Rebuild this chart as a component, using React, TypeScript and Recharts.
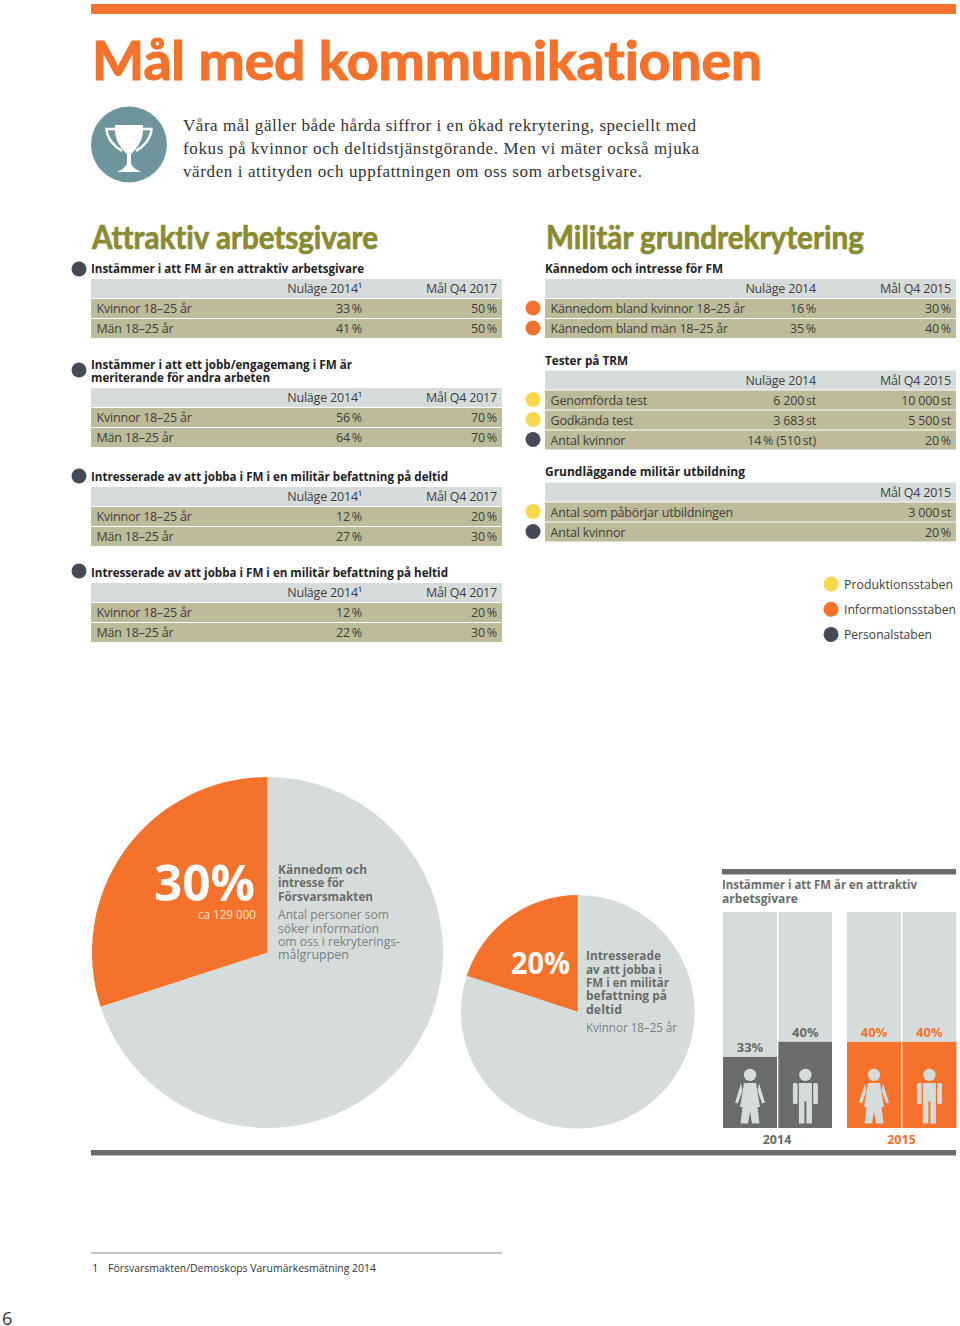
import { BarChart, Bar, XAxis, YAxis, LabelList, PieChart, Pie, Cell } from 'recharts';

const ORANGE = '#f4722b';
const YELLOW = '#f9d84c';
const NAVY = '#444a58';
const PALE = '#d6dcdc';
const KHAKI = '#bdbb99';
const OLIVE = '#8a8a33';
const SLATE = '#696c68';
const INK = '#3f403a';
const SANS = '"Open Sans", sans-serif';
const DISPLAY = 'Lato, sans-serif';

const introLines = [
  'Våra mål gäller både hårda siffror i en ökad rekrytering, speciellt med',
  'fokus på kvinnor och deltidstjänstgörande. Men vi mäter också mjuka',
  'värden i attityden och uppfattningen om oss som arbetsgivare.',
];

// left column tables
const attraktivRows = [
  ['Kvinnor 18–25 år', '33\u2009%', '50\u2009%'],
  ['Män 18–25 år', '41\u2009%', '50\u2009%'],
];
const meriterandeRows = [
  ['Kvinnor 18–25 år', '56\u2009%', '70\u2009%'],
  ['Män 18–25 år', '64\u2009%', '70\u2009%'],
];
const deltidRows = [
  ['Kvinnor 18–25 år', '12\u2009%', '20\u2009%'],
  ['Män 18–25 år', '27\u2009%', '30\u2009%'],
];
const heltidRows = [
  ['Kvinnor 18–25 år', '12\u2009%', '20\u2009%'],
  ['Män 18–25 år', '22\u2009%', '30\u2009%'],
];

// right column tables
const kannedomRows = [
  ['Kännedom bland kvinnor 18–25 år', '16\u2009%', '30\u2009%'],
  ['Kännedom bland män 18–25 år', '35\u2009%', '40\u2009%'],
];
const testerRows = [
  ['Genomförda test', '6\u00a0200\u2009st', '10\u00a0000\u2009st'],
  ['Godkända test', '3\u00a0683\u2009st', '5\u00a0500\u2009st'],
  ['Antal kvinnor', '14\u2009% (510\u2009st)', '20\u2009%'],
];
const utbildningRows = [
  ['Antal som påbörjar utbildningen', '', '3\u00a0000\u2009st'],
  ['Antal kvinnor', '', '20\u2009%'],
];

const legendNames = ['Produktionsstaben', 'Informationsstaben', 'Personalstaben'];
const legendWidths = [109, 112, 88];
const legendColors = [YELLOW, ORANGE, NAVY];

const kannedomPie = [
  { name: 'Övriga', value: 70 },
  { name: 'Kännedom och intresse för Försvarsmakten', value: 30 },
];
const deltidPie = [
  { name: 'Övriga', value: 80 },
  { name: 'Intresserade av att jobba i FM', value: 20 },
];

const bars2014 = [
  { group: 'Kvinnor', value: 33 },
  { group: 'Män', value: 40 },
];
const bars2015 = [
  { group: 'Kvinnor', value: 40 },
  { group: 'Män', value: 40 },
];

const T = ({ x, y, w, size = 13, weight = 400, fill = INK, anchor = 'start', font = SANS, adjust = 'spacingAndGlyphs', tracking, children }: any) => (
  <text
    x={x}
    y={y}
    fontFamily={font}
    fontSize={size}
    fontWeight={weight}
    fill={fill}
    textAnchor={anchor}
    textLength={w}
    lengthAdjust={w ? adjust : undefined}
    letterSpacing={tracking}
  >
    {children}
  </text>
);

// Lato bold thickened a little, the original headings are heavier
const Heading = ({ x, y, w, size, fill, children }: any) => (
  <text
    x={x}
    y={y}
    fontFamily={DISPLAY}
    fontSize={size}
    fontWeight={700}
    fill={fill}
    stroke={fill}
    strokeWidth={size / 45}
    textLength={w}
    lengthAdjust="spacingAndGlyphs"
    style={{ fontVariantLigatures: 'none' }}
  >
    {children}
  </text>
);

const Dot = ({ x, y, color }: any) => <circle cx={x} cy={y} r={7.5} fill={color} />;

const Table = ({ x, y, head1, head2, rows, dots, col1 }: any) => (
  <g>
    <rect x={x} y={y} width={411} height={19} fill={PALE} />
    <T x={x + col1} y={y + 14} anchor="end" size={12.5} tracking={-0.2}>{head1}</T>
    <T x={x + 406} y={y + 14} anchor="end" size={12.5} tracking={-0.2}>{head2}</T>
    {rows.map((row: string[], i: number) => {
      const top = y + 20 + i * 20;
      return (
        <g key={row[0]}>
          <rect x={x} y={top} width={411} height={19} fill={KHAKI} />
          <T x={x + 5.5} y={top + 14} size={12.5} tracking={-0.2}>{row[0]}</T>
          <T x={x + col1} y={top + 14} anchor="end" size={12.5} tracking={-0.2}>{row[1]}</T>
          <T x={x + 406} y={top + 14} anchor="end" size={12.5} tracking={-0.2}>{row[2]}</T>
          {dots && <Dot x={x - 12} y={top + 9} color={dots[i]} />}
        </g>
      );
    })}
  </g>
);

const Woman = ({ cx, b }: any) => (
  <g fill={PALE}>
    <circle cx={cx} cy={b - 53.5} r={6.2} />
    <path d={`M${cx - 6} ${b - 45.5} H${cx + 6} L${cx + 8} ${b - 33} L${cx + 10} ${b - 21.5} H${cx + 7.5} L${cx + 9.5} ${b - 5} H${cx + 2} L${cx} ${b - 17} L${cx - 2} ${b - 5} H${cx - 9.5} L${cx - 7.5} ${b - 21.5} H${cx - 10} L${cx - 8} ${b - 33} Z`} />
    <path d={`M${cx - 9} ${b - 45} L${cx - 15} ${b - 26} L${cx - 12} ${b - 25} L${cx - 7.5} ${b - 38} Z`} />
    <path d={`M${cx + 9} ${b - 45} L${cx + 15} ${b - 26} L${cx + 12} ${b - 25} L${cx + 7.5} ${b - 38} Z`} />
  </g>
);

const Man = ({ cx, b }: any) => (
  <g fill={PALE}>
    <circle cx={cx} cy={b - 53.5} r={6.2} />
    <path d={`M${cx - 6.5} ${b - 45.5} H${cx + 6.5} V${b - 5} H${cx + 1} V${b - 27} H${cx - 1} V${b - 5} H${cx - 6.5} Z`} />
    <rect x={cx - 12.5} y={b - 45.5} width={4.7} height={21} rx={1.5} />
    <rect x={cx + 7.8} y={b - 45.5} width={4.7} height={21} rx={1.5} />
  </g>
);

const PersonBar = ({ x, y, width, height, fill, index }: any) => {
  const Figure = index === 0 ? Woman : Man;
  return (
    <g>
      <rect x={x} y={y} width={width} height={height} fill={fill} />
      <Figure cx={x + width / 2} b={y + height} />
    </g>
  );
};

const GenderBars = ({ data, left, color }: any) => (
  <div style={{ position: 'absolute', left, top: 912 }}>
    <BarChart width={110.8} height={216.4} data={data} margin={{ top: 0, right: 0, bottom: 0, left: 0 }}>
      <XAxis dataKey="group" hide />
      <YAxis domain={[0, 100]} hide />
      <Bar
        dataKey="value"
        barSize={54}
        fill={color}
        background={{ fill: PALE }}
        shape={<PersonBar />}
        isAnimationActive={false}
      >
        <LabelList
          dataKey="value"
          position="top"
          offset={5}
          formatter={(v: any) => `${v}%`}
          style={{ fontFamily: SANS, fontSize: 13, fontWeight: 700, fill: color }}
        />
      </Bar>
    </BarChart>
  </div>
);

const SharePie = ({ data, left, top, radius }: any) => (
  <div style={{ position: 'absolute', left, top }}>
    <PieChart width={radius * 2} height={radius * 2} margin={{ top: 0, right: 0, bottom: 0, left: 0 }}>
      <Pie
        data={data}
        dataKey="value"
        nameKey="name"
        startAngle={90}
        endAngle={-270}
        innerRadius={0}
        outerRadius={radius}
        stroke="none"
        isAnimationActive={false}
      >
        <Cell fill={PALE} />
        <Cell fill={ORANGE} />
      </Pie>
    </PieChart>
  </div>
);

export default function App() {
  return (
    <div style={{ position: 'absolute', left: 0, top: 0, width: 960, height: 1326, background: '#fff', overflow: 'hidden' }}>
      <SharePie data={kannedomPie} left={91.5} top={777} radius={175.5} />
      <SharePie data={deltidPie} left={461.2} top={895} radius={116.8} />
      <GenderBars data={bars2014} left={721.6} color={SLATE} />
      <GenderBars data={bars2015} left={846.3} color={ORANGE} />

      <svg width={960} height={1326} style={{ position: 'absolute', left: 0, top: 0, pointerEvents: 'none' }}>
        <rect x={91} y={4} width={865} height={10} fill={ORANGE} />
        <Heading x={92} y={79.5} w={670} size={54} fill={ORANGE}>Mål med kommunikationen</Heading>

        <circle cx={129} cy={144.5} r={38} fill="#6f959c" />
        <path fill="#fff" d="M115 125 H143 V130 C143 143 134 151 131 154 L131 162 C131 167 137 170 141 172 H117 C121 170 127 167 127 162 L127 154 C124 151 115 143 115 130 Z" />
        <path d="M115 129 H106.5 C107 139 115 147 122 151 M143 129 H151.5 C151 139 143 147 136 151" fill="none" stroke="#fff" strokeWidth={2.5} />

        {introLines.map((line, i) => (
          <T key={line} x={183} y={130.5 + i * 23} w={[513, 516, 459][i]} size={17} adjust="spacing" fill="#333" font='"Liberation Serif", serif'>{line}</T>
        ))}

        <Heading x={92} y={248.5} w={286} size={32} fill={OLIVE}>Attraktiv arbetsgivare</Heading>
        <Heading x={546} y={248.5} w={318} size={32} fill={OLIVE}>Militär grundrekrytering</Heading>

        <Dot x={79} y={269} color={NAVY} />
        <T x={91} y={272.5} w={273} weight={700} fill="#222">Instämmer i att FM är en attraktiv arbetsgivare</T>
        <Table x={91} y={279} col1={271} head1="Nuläge 2014¹" head2="Mål Q4 2017" rows={attraktivRows} />

        <Dot x={79} y={370} color={NAVY} />
        <T x={91} y={368.5} w={261} weight={700} fill="#222">Instämmer i att ett jobb/engagemang i FM är</T>
        <T x={91} y={381.5} w={179} weight={700} fill="#222">meriterande för andra arbeten</T>
        <Table x={91} y={388} col1={271} head1="Nuläge 2014¹" head2="Mål Q4 2017" rows={meriterandeRows} />

        <Dot x={79} y={476} color={NAVY} />
        <T x={91} y={481} w={357} weight={700} fill="#222">Intresserade av att jobba i FM i en militär befattning på deltid</T>
        <Table x={91} y={487} col1={271} head1="Nuläge 2014¹" head2="Mål Q4 2017" rows={deltidRows} />

        <Dot x={79} y={571} color={NAVY} />
        <T x={91} y={576.5} w={357} weight={700} fill="#222">Intresserade av att jobba i FM i en militär befattning på heltid</T>
        <Table x={91} y={583} col1={271} head1="Nuläge 2014¹" head2="Mål Q4 2017" rows={heltidRows} />

        <T x={545} y={272.5} w={178} weight={700} fill="#222">Kännedom och intresse för FM</T>
        <Table x={545} y={279} col1={271} head1="Nuläge 2014" head2="Mål Q4 2015" rows={kannedomRows} dots={[ORANGE, ORANGE]} />

        <T x={545} y={364.5} w={83} weight={700} fill="#222">Tester på TRM</T>
        <Table x={545} y={370.5} col1={271} head1="Nuläge 2014" head2="Mål Q4 2015" rows={testerRows} dots={[YELLOW, YELLOW, NAVY]} />

        <T x={545} y={476} w={200} weight={700} fill="#222">Grundläggande militär utbildning</T>
        <Table x={545} y={482.5} col1={271} head1="" head2="Mål Q4 2015" rows={utbildningRows} dots={[YELLOW, NAVY]} />

        {legendNames.map((name, i) => (
          <g key={name}>
            <Dot x={831} y={584 + i * 25.2} color={legendColors[i]} />
            <T x={844} y={589 + i * 25.2} w={legendWidths[i]}>{name}</T>
          </g>
        ))}

        <T x={154} y={901} w={101} size={50} weight={700} fill="#fff">30%</T>
        <T x={198} y={919} w={58} size={12} fill="#fde3d3">ca 129 000</T>
        <T x={278} y={874} w={89} size={12.5} weight={700} fill={SLATE}>Kännedom och</T>
        <T x={278} y={887} w={66} size={12.5} weight={700} fill={SLATE}>intresse för</T>
        <T x={278} y={900.5} w={95} size={12.5} weight={700} fill={SLATE}>Försvarsmakten</T>
        <T x={278} y={919} w={111} fill="#7c7f7c">Antal personer som</T>
        <T x={278} y={932.5} w={101} fill="#7c7f7c">söker information</T>
        <T x={278} y={945.5} w={122} fill="#7c7f7c">om oss i rekryterings-</T>
        <T x={278} y={959} w={71} fill="#7c7f7c">målgruppen</T>

        <T x={511} y={974} w={59} size={30} weight={700} fill="#fff">20%</T>
        <T x={586} y={960} w={75} size={12.5} weight={700} fill={SLATE}>Intresserade</T>
        <T x={586} y={973.5} w={76} size={12.5} weight={700} fill={SLATE}>av att jobba i</T>
        <T x={586} y={987} w={83} size={12.5} weight={700} fill={SLATE}>FM i en militär</T>
        <T x={586} y={1000} w={81} size={12.5} weight={700} fill={SLATE}>befattning på</T>
        <T x={586} y={1013.5} w={36} size={12.5} weight={700} fill={SLATE}>deltid</T>
        <T x={586} y={1032} w={91} fill="#7c7f7c">Kvinnor 18–25 år</T>

        <rect x={722} y={869} width={234} height={5.5} fill={SLATE} />
        <T x={722} y={889} w={195} weight={700} fill={SLATE}>Instämmer i att FM är en attraktiv</T>
        <T x={722} y={903} w={76} weight={700} fill={SLATE}>arbetsgivare</T>
        <T x={777} y={1144} anchor="middle" size={12.5} weight={700} fill={SLATE}>2014</T>
        <T x={901.5} y={1144} anchor="middle" size={12.5} weight={700} fill={ORANGE}>2015</T>
        <rect x={91} y={1150} width={865} height={5.5} fill={SLATE} />

        <rect x={91} y={1252.5} width={411} height={1} fill="#888" />
        <T x={92} y={1272} size={11} fill="#333">1</T>
        <T x={108} y={1272} w={268} size={11} fill="#333">Försvarsmakten/Demoskops Varumärkesmätning 2014</T>
        <T x={2} y={1325} size={18} fill="#333">6</T>
      </svg>
    </div>
  );
}
